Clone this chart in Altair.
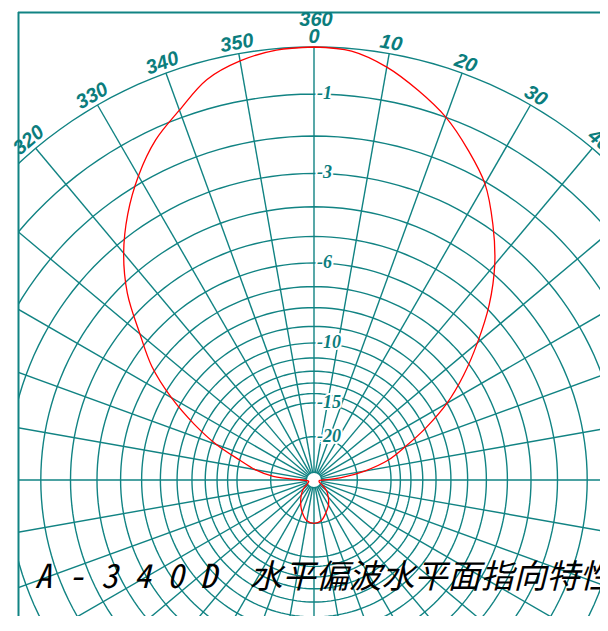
import altair as alt
import pandas as pd

# ---------------- data ----------------
# measured horizontal pattern (bearing in degrees, relative level in dB)
pattern_deg = [0, 5, 10, 15, 20, 25, 30, 35, 40, 45, 50, 55, 60, 65, 70, 75, 80, 85, 90,
               95, 110, 120, 130, 140, 150, 160, 170, 180, 190, 200, 210, 220, 230, 240, 255, 265,
               270, 275, 280, 285, 290, 295, 300, 305, 310, 315, 320, 325, 330, 335, 340, 345,
               350, 355, 360]
pattern_db = [0.0, -0.05, -0.28, -0.62, -1.0, -1.5, -2.05, -2.85, -3.75, -4.85, -6.15, -7.5,
              -9.0, -10.9, -13.0, -15.0, -18.5, -24.0, -33.0,
              -38.0, -38.0, -34.0, -28.5, -25.8, -23.5, -21.9, -20.4, -20.0, -20.4, -22.0,
              -24.2, -26.8, -30.0, -35.0, -38.0, -36.0,
              -31.0, -20.5, -17.2, -15.0, -12.4, -10.3, -8.4, -6.8, -5.6, -4.3, -3.3, -2.5,
              -1.82, -1.25, -0.83, -0.38, -0.15, -0.03, 0.0]

ring_db = [0, -1, -2, -3, -4, -5, -6, -7, -8, -9, -10, -11, -12, -13, -14, -15, -20]
inner_db = [-35]
spoke_deg = list(range(0, 360, 10))
angle_label_deg = [320, 330, 340, 350, 0, 10, 20, 30, 40]
angle_label_txt = ["320", "330", "340", "350", "0", "10", "20", "30", "40"]
db_label_vals = [-1, -3, -6, -10, -15, -20]
db_label_txt = ["-1", "-3", "-6", "-10", "-15", "-20"]
title_text = ["A - 3 4 0 D\u00a0 水平偏波水平面指向特性"]

# ---------------- layout ----------------
W, H = 582, 604
PX = 433.0             # pixels per unit radius (0 dB circle)
CX, CY = 296.0, 468.0  # centre inside the plot area
xdom = [-CX / PX, (W - CX) / PX]
ydom = [(CY - H) / PX, CY / PX]

TEAL = "#118383"
TEAL_TXT = "#0b7d7d"

xs = alt.Scale(domain=xdom, nice=False, zero=False)
ys = alt.Scale(domain=ydom, nice=False, zero=False)
X = alt.X("x:Q", scale=xs, axis=None)
Y = alt.Y("y:Q", scale=ys, axis=None)

# rings
rings = alt.Chart(pd.DataFrame({"db": ring_db})).transform_calculate(
    a="sequence(0, 362, 2)"
).transform_flatten(["a"]).transform_calculate(
    r="pow(10, datum.db / 20)",
    x="datum.r * sin(datum.a * PI / 180)",
    y="datum.r * cos(datum.a * PI / 180)",
).mark_line(clip=True, color=TEAL, strokeWidth=1.4).encode(
    x=X, y=Y, detail="db:N", order="a:Q"
)

# spokes
rin = 10 ** (inner_db[0] / 20)
spokes = alt.Chart(pd.DataFrame({"deg": spoke_deg})).transform_calculate(
    x=f"{rin} * sin(datum.deg * PI / 180)",
    y=f"{rin} * cos(datum.deg * PI / 180)",
    x2="sin(datum.deg * PI / 180)",
    y2="cos(datum.deg * PI / 180)",
).mark_rule(clip=True, color=TEAL, strokeWidth=1.4).encode(
    x=X, y=Y, x2="x2:Q", y2="y2:Q"
)

# inner disc
dia = 2 * rin * PX
inner = alt.Chart(pd.DataFrame({"db": inner_db})).transform_calculate(
    x="0", y="0"
).mark_point(clip=True, shape="circle", filled=False, fill="white", fillOpacity=1,
             stroke=TEAL, strokeWidth=1.4, size=dia * dia, opacity=1).encode(x=X, y=Y)

# dB labels with white halo
dbdf = pd.DataFrame({"db": db_label_vals, "txt": db_label_txt})
db_base = alt.Chart(dbdf).transform_calculate(
    x="0", y="pow(10, datum.db / 20)"
)
db_halo = db_base.mark_text(align="left", baseline="middle", dx=3, fontSize=18,
                            font="Liberation Serif", fontStyle="italic", fontWeight="bold",
                            stroke="white", strokeWidth=4, color="white").encode(
    x=X, y=Y, text="txt:N")
db_text = db_base.mark_text(align="left", baseline="middle", dx=3, fontSize=18,
                            font="Liberation Serif", fontStyle="italic", fontWeight="bold",
                            color=TEAL_TXT).encode(x=X, y=Y, text="txt:N")

# angle labels (not clipped by the frame, like the original)
FONT_ANG = "Liberation Sans Narrow, Liberation Sans, Arial, sans-serif"
adf = pd.DataFrame({"deg": angle_label_deg, "txt": angle_label_txt})
ang = alt.Chart(adf).transform_calculate(
    x="1.024 * sin(datum.deg * PI / 180)",
    y="1.024 * cos(datum.deg * PI / 180)",
).mark_text(align="center", baseline="middle", fontSize=20,
            font=FONT_ANG, fontStyle="italic", fontWeight="bold", color=TEAL_TXT).encode(
    x=X, y=Y, text="txt:N", angle=alt.Angle("deg:Q", scale=None))

ang360 = alt.Chart(pd.DataFrame({"txt": ["360"]})).transform_calculate(
    x="0", y="1.063"
).mark_text(align="center", baseline="middle", fontSize=20, dx=2,
            font=FONT_ANG, fontStyle="italic", fontWeight="bold", color=TEAL_TXT).encode(
    x=X, y=Y, text="txt:N")

# measured pattern
pat = alt.Chart(pd.DataFrame({"deg": pattern_deg, "db": pattern_db})).transform_calculate(
    r="pow(10, datum.db / 20)",
    x="datum.r * sin(datum.deg * PI / 180)",
    y="datum.r * cos(datum.deg * PI / 180)",
).mark_line(clip=True, color="#ff0000", strokeWidth=1.3, interpolate="catmull-rom").encode(
    x=X, y=Y, order="deg:Q")

# frame (left and top edges)
frame_left = alt.Chart(pd.DataFrame({"k": [0]})).mark_rule(
    color=TEAL, strokeWidth=2).encode(
    x=alt.value(0.5), y=alt.value(0), y2=alt.value(H))
frame_top = alt.Chart(pd.DataFrame({"k": [0]})).mark_rule(
    color=TEAL, strokeWidth=2).encode(
    x=alt.value(0), x2=alt.value(W), y=alt.value(0.5))

title = alt.Chart(pd.DataFrame({"t": title_text})).mark_text(
    align="left", baseline="middle", fontSize=33,
    font="Noto Sans Mono CJK JP, Noto Sans CJK JP", fontStyle="italic", color="black"
).encode(x=alt.value(17), y=alt.value(566), text="t:N")

chart = alt.layer(
    rings, spokes, inner, db_halo, db_text, pat, frame_left, frame_top, ang, ang360, title
).properties(
    width=W, height=H,
    padding={"left": 10, "top": 4, "right": 0, "bottom": 0},
    autosize=alt.AutoSizeParams(type="none"),
).configure_view(stroke=None)

chart.save("out.html", embed_options={"renderer": "svg", "actions": False})
